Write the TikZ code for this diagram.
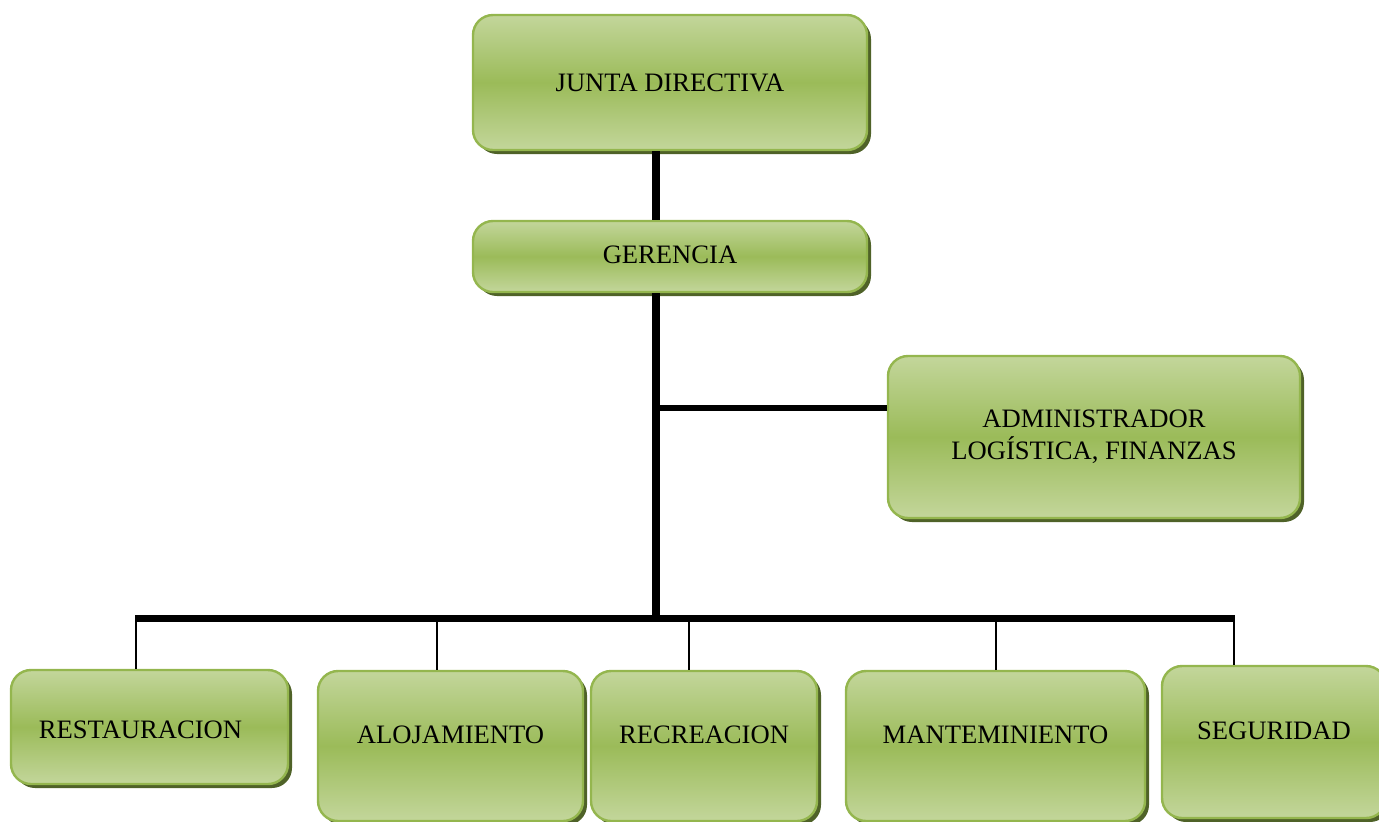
\documentclass[tikz,border=0pt]{standalone}
\usepackage{fontspec}
\setmainfont{Liberation Serif}
\usetikzlibrary{shadows}
\definecolor{boxtop}{HTML}{C3D69B}
\definecolor{boxmid}{HTML}{9BBB59}
\definecolor{boxline}{HTML}{94B64E}
\definecolor{boxshadow}{HTML}{4F6228}
\tikzset{
  orgbox/.style={rectangle, rounded corners=10pt, draw=boxline, line width=1.2pt,
    top color=boxtop, bottom color=boxtop, middle color=boxmid,
    drop shadow={shadow xshift=2pt, shadow yshift=-2pt, fill=boxshadow, opacity=1},
    font=\fontsize{13.3}{16}\selectfont, align=center, inner sep=0pt},
  trunk/.style={line width=4pt, black},
  branch/.style={line width=3pt, black},
  bar/.style={line width=3.5pt, black},
  drop/.style={line width=1pt, black},
  lbl/.style={font=\fontsize{13.3}{16}\selectfont, align=center}
}
\begin{document}
\begin{tikzpicture}[x=0.5pt,y=-0.5pt]
\useasboundingbox (0,0) rectangle (1379,821);
% boxes
\node[orgbox, minimum width=197pt, minimum height=67.5pt] (junta) at (670,82.5) {JUNTA DIRECTIVA};
\node[orgbox, minimum width=197pt, minimum height=35.5pt] (ger) at (670,256.5) {\raisebox{2pt}{GERENCIA}};
\node[orgbox, minimum width=206pt, minimum height=81pt] (adm) at (1094,437) {ADMINISTRADOR\\LOGÍSTICA, FINANZAS};
\node[orgbox, minimum width=138.5pt, minimum height=57pt,
  label={[lbl, xshift=-4.5pt, yshift=-1.5pt]center:RESTAURACION}] (rest) at (149.5,727) {};
\node[orgbox, minimum width=132.5pt, minimum height=75pt,
  label={[lbl, yshift=5.5pt]center:ALOJAMIENTO}] (aloj) at (450.5,746) {};
\node[orgbox, minimum width=113pt, minimum height=75pt,
  label={[lbl, yshift=5.5pt]center:RECREACION}] (recr) at (704,746) {};
\node[orgbox, minimum width=149.5pt, minimum height=75pt,
  label={[lbl, yshift=5.5pt]center:MANTEMINIENTO}] (mant) at (995.5,746) {};
\node[orgbox, minimum width=112pt, minimum height=76pt,
  label={[lbl, yshift=5.5pt]center:SEGURIDAD}] (seg) at (1274,742) {};
% connectors
\coordinate (bus) at (656,618);
\coordinate (br) at (656,408);
\draw[trunk] (junta.south -| bus) -- (ger.north -| bus);
\draw[trunk] (ger.south -| bus) -- (bus);
\draw[branch] (br) -- (br -| adm.west);
\coordinate (d1) at (136,618);
\coordinate (d2) at (437,618);
\coordinate (d3) at (689,618);
\coordinate (d4) at (996,618);
\coordinate (d5) at (1234,618);
\draw[bar] ([xshift=-0.5pt]d1) -- ([xshift=0.5pt]d5);
\draw[drop] (d1) -- (d1 |- rest.north);
\draw[drop] (d2) -- (d2 |- aloj.north);
\draw[drop] (d3) -- (d3 |- recr.north);
\draw[drop] (d4) -- (d4 |- mant.north);
\draw[drop] (d5) -- (d5 |- seg.north);
\end{tikzpicture}
\end{document}
